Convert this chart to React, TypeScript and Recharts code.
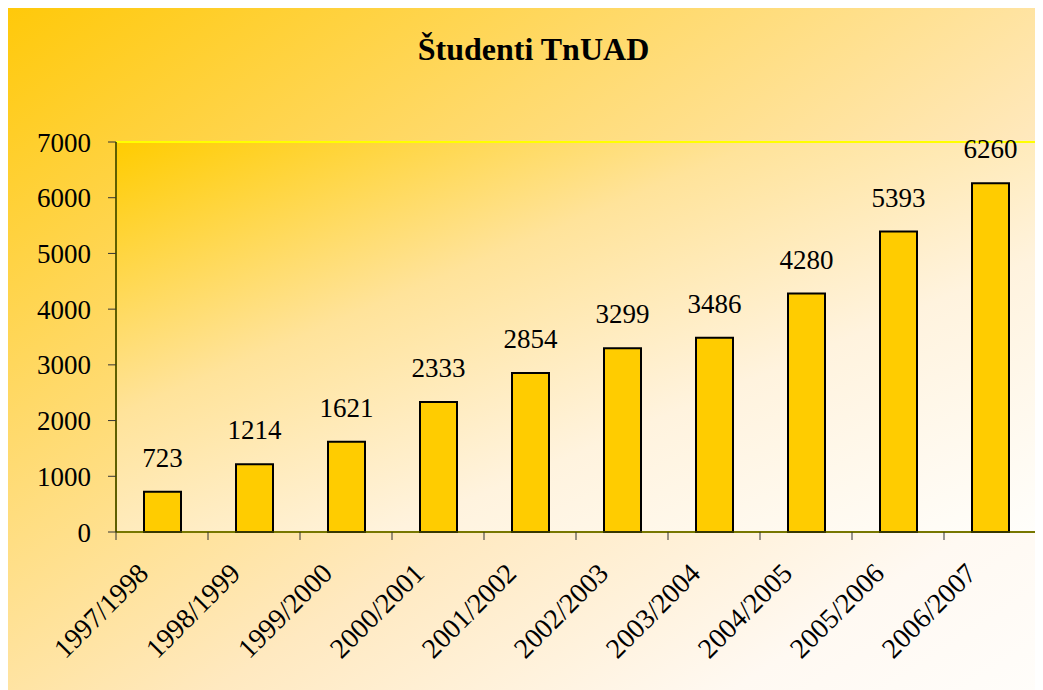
import React from 'react';
import { BarChart, Bar, XAxis, YAxis, CartesianGrid, ReferenceArea, LabelList } from 'recharts';

const years = ['1997/1998', '1998/1999', '1999/2000', '2000/2001', '2001/2002', '2002/2003', '2003/2004', '2004/2005', '2005/2006', '2006/2007'];
const students = [723, 1214, 1621, 2333, 2854, 3299, 3486, 4280, 5393, 6260];
const yTicks = [0, 1000, 2000, 3000, 4000, 5000, 6000, 7000];

const data = years.map((y, i) => ({ year: y, count: students[i] }));

const FONT = 'Liberation Serif, DejaVu Serif, serif';

// category ticks: marks sit on band edges, labels go under the band center at -45deg
const YearTick = (props: any) => {
  const { x, y, payload, index } = props;
  const half = payload && payload.offset ? payload.offset : 46;
  const isLast = index === years.length - 1;
  const ax = x - 12;
  const ay = y + 43;
  return (
    <g>
      <line x1={x - half} y1={y} x2={x - half} y2={y + 8} stroke="#333" strokeWidth={1} />
      {isLast && <line x1={x + half} y1={y} x2={x + half} y2={y + 8} stroke="#333" strokeWidth={1} />}
      <text
        x={ax}
        y={ay}
        transform={`rotate(-45, ${ax}, ${ay})`}
        textAnchor="end"
        style={{ fontSize: 28, fontFamily: FONT }}
        fill="#000"
      >
        {payload.value}
      </text>
    </g>
  );
};

export default function App() {
  return (
    <div
      style={{
        position: 'relative',
        width: 1036,
        height: 682,
        marginLeft: -1,
        background: 'linear-gradient(to bottom right, #FFC90A 0%, #FFD968 30%, #FFE9C0 60%, #FFF9F2 85%, #FFFDFA 100%)',
        borderLeft: '1px solid #FFCC33',
        boxSizing: 'border-box',
      }}
    >
      <div
        style={{
          position: 'absolute',
          top: 23,
          left: 8,
          width: '100%',
          textAlign: 'center',
          fontFamily: FONT,
          fontWeight: 'bold',
          fontSize: 32,
          color: '#000',
        }}
      >
        Študenti TnUAD
      </div>
      <BarChart
        width={1035}
        height={682}
        data={data}
        margin={{ top: 134, right: 7, left: 0, bottom: 18 }}
        barSize={37}
        style={{ position: 'absolute', top: 0, left: 0 }}
      >
        <defs>
          <linearGradient id="plotBg" x1="0" y1="0" x2="1" y2="1">
            <stop offset="0%" stopColor="#FFCC00" />
            <stop offset="35%" stopColor="#FFE39A" />
            <stop offset="65%" stopColor="#FFF3DE" />
            <stop offset="100%" stopColor="#FFFEFB" />
          </linearGradient>
        </defs>
        <CartesianGrid horizontal={false} vertical={false} fill="url(#plotBg)" stroke="none" />
        <ReferenceArea y1={0} y2={7000} fill="none" stroke="#FFFF00" strokeWidth={2} ifOverflow="visible" />
        <XAxis
          dataKey="year"
          height={140}
          interval={0}
          tickSize={0}
          tickMargin={0}
          tickLine={false}
          axisLine={{ stroke: '#4a4a00', strokeWidth: 1.5 }}
          tick={<YearTick />}
        />
        <YAxis
          width={108}
          domain={[0, 7000]}
          ticks={yTicks}
          interval={0}
          tickSize={8}
          tickMargin={17}
          axisLine={{ stroke: '#2a2a00', strokeWidth: 1.5 }}
          tickLine={{ stroke: '#333' }}
          tick={{ fill: '#000', fontSize: 27, fontFamily: FONT, style: { fontFamily: FONT } }}
        />
        <Bar dataKey="count" fill="#FFCC00" stroke="#000" strokeWidth={2} isAnimationActive={false}>
          <LabelList
            dataKey="count"
            position="top"
            offset={25}
            fill="#000"
            fontSize={27}
            fontFamily={FONT}
            style={{ fontFamily: FONT }}
          />
        </Bar>
      </BarChart>
    </div>
  );
}
